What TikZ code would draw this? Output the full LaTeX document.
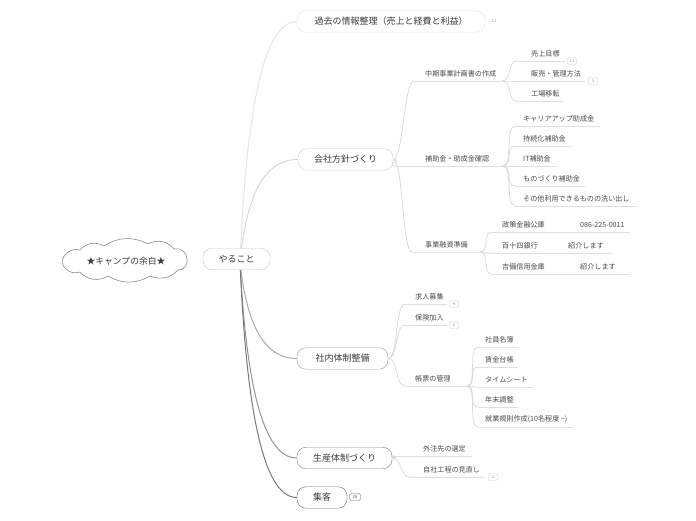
\documentclass[tikz,border=0pt]{standalone}
\usepackage{fontspec}
\setmainfont{Noto Sans CJK JP}
\usetikzlibrary{backgrounds}
\definecolor{maintxt}{HTML}{3A3A3A}
\definecolor{subtxtc}{HTML}{4A4A4A}
\definecolor{ulcol}{HTML}{E0E0E0}
\definecolor{conncol}{HTML}{D8D8D8}
\definecolor{badgecol}{HTML}{CFCFCF}
\definecolor{badgetxt}{HTML}{A0A0A0}
\tikzset{
 mainbox/.style={draw, rounded corners=9pt, fill=white, minimum height=21.5pt, inner sep=0pt, font=\fontsize{9}{9}\selectfont, text=maintxt},
 subtxt/.style={anchor=west, inner sep=0pt, font=\fontsize{7.1}{7}\selectfont, text=subtxtc},
 ul/.style={draw=ulcol, line width=0.6pt},
 conn/.style={draw=conncol, line width=0.7pt},
 rootline/.style={line width=1pt},
 badge/.style={draw=badgecol, rounded corners=2pt, inner sep=0.8pt, minimum width=9pt, minimum height=7pt, font=\fontsize{4.5}{4.5}\selectfont, text=badgetxt, fill=white},
 puff/.style={bend left=#1},
}
\newcommand\topic[6]{%
 \node[subtxt] (#1) at (#5,#4-7.5) {#6};
 \coordinate (#1L) at (#2,#4);
 \coordinate (#1R) at (#3,#4);
 \draw[ul] (#1L) -- (#1R);
}
\newcommand\cnx[2]{\draw[conn] (#1) .. controls +(10,0) and +(-10,0) .. (#2);}
\begin{document}
\begin{tikzpicture}[x=1pt,y=-1pt]
\useasboundingbox (0,0) rectangle (696,520);

% root cloud
\draw[black!45, line width=0.6pt, fill=white]
  (62,262) to[puff=50] (80,250) to[puff=40] (104,246) to[puff=30] (148,244)
  to[puff=40] (174,249) to[puff=55] (187,259) to[puff=55] (178,270)
  to[puff=35] (150,276) to[puff=30] (108,276) to[puff=40] (80,272) to[puff=50] cycle;
\node[inner sep=0pt, minimum width=128pt, minimum height=32pt, font=\fontsize{8.8}{9}\selectfont, text=maintxt] (root) at (126,261) {★キャンプの余白★};

% central
\node[mainbox, draw=black!22, minimum width=67pt] (yaru) at (236.5,259) {やること};
\coordinate (ys) at (240,262);

% main topics
\node[mainbox, draw=black!11, minimum width=188pt] (kako) at (391,21.5) {過去の情報整理（売上と経費と利益）};
\node[mainbox, draw=black!20, minimum width=95pt] (kaisha) at (345.5,159.5) {会社方針づくり};
\node[mainbox, draw=black!38, minimum width=91pt] (shanai) at (342.5,358.5) {社内体制整備};
\node[mainbox, draw=black!50, minimum width=95pt] (seisan) at (344.5,458) {生産体制づくり};
\node[mainbox, draw=black!60, minimum width=50pt] (shukyaku) at (322,497.5) {集客};

\node[inner sep=0pt, font=\fontsize{4.5}{4.5}\selectfont, text=badgetxt] (bkako) at (494,21) {11};
\node[badge, draw=black!60, text=black!60, minimum width=11pt] (bshu) at (355,497) {28};

\begin{scope}[on background layer]
\fill[white] (0,0) rectangle (696,520);
\draw[rootline, draw=black!10] (ys) .. controls (246,118) and (262,21.5) .. (kako.west);
\draw[rootline, draw=black!15] (ys) .. controls (246,200) and (262,159.5) .. (kaisha.west);
\draw[rootline, draw=black!33] (ys) .. controls (246,320) and (262,358.5) .. (shanai.west);
\draw[rootline, draw=black!42] (ys) .. controls (246,380) and (262,458) .. (seisan.west);
\draw[rootline, draw=black!52] (ys) .. controls (246,403) and (262,497.5) .. (shukyaku.west);
\end{scope}

% 会社方針づくり
\topic{chuki}{414}{502}{81}{425}{中期事業計画書の作成}
\topic{uriage}{517}{565}{61}{531}{売上目標}
\topic{hanbai}{515}{585}{81}{531}{販売・管理方法}
\topic{kojo}{517}{563}{101}{531}{工場移転}
\node[badge] (b1) at (572,61) {11};
\node[badge] (b2) at (593,81) {3};
\cnx{kaisha.east}{chukiL}
\cnx{chukiR}{uriageL}
\cnx{chukiR}{hanbaiL}
\cnx{chukiR}{kojoL}

\topic{hojo}{395}{503}{166}{425}{補助金・助成金確認}
\topic{career}{515}{600}{126}{523}{キャリアアップ助成金}
\topic{jizoku}{515}{572}{146}{523}{持続化補助金}
\topic{ithojo}{515}{557}{166}{523}{IT補助金}
\topic{monozukuri}{515}{585}{186}{523}{ものづくり補助金}
\topic{sonota}{515}{637}{206}{523}{その他利用できるものの洗い出し}
\cnx{kaisha.east}{hojoL}
\cnx{hojoR}{careerL}
\cnx{hojoR}{jizokuL}
\cnx{hojoR}{ithojoL}
\cnx{hojoR}{monozukuriL}
\cnx{hojoR}{sonotaL}

\topic{jigyo}{412}{480}{252}{425}{事業融資準備}
\topic{seisaku}{492}{630}{232}{502}{政策金融公庫}
\topic{hyaku}{492}{613}{253}{502}{百十四銀行}
\topic{kibi}{492}{630}{274}{502}{吉備信用金庫}
\node[subtxt] (seisakuN) at (580,224.5) {086-225-0011};
\node[subtxt] (hyakuN) at (568,245.5) {紹介します};
\node[subtxt] (kibiN) at (580,266.5) {紹介します};
\cnx{kaisha.east}{jigyoL}
\cnx{jigyoR}{seisakuL}
\cnx{jigyoR}{hyakuL}
\cnx{jigyoR}{kibiL}

% 社内体制整備
\topic{kyujin}{405}{447}{304}{415}{求人募集}
\topic{hoken}{405}{447}{325}{415}{保険加入}
\topic{chohyo}{405}{467}{386}{415}{帳票の管理}
\node[badge] (b3) at (454,304) {4};
\node[badge] (b4) at (454,325) {2};
\topic{meibo}{478}{518}{347}{485}{社員名簿}
\topic{chingin}{478}{518}{367}{485}{賃金台帳}
\topic{timesheet}{478}{533}{387}{485}{タイムシート}
\topic{nenmatsu}{478}{518}{407}{485}{年末調整}
\topic{kisoku}{478}{573}{427}{485}{就業規則作成(10名程度 \textasciitilde)}
\cnx{shanai.east}{kyujinL}
\cnx{shanai.east}{hokenL}
\cnx{shanai.east}{chohyoL}
\cnx{chohyoR}{meiboL}
\cnx{chohyoR}{chinginL}
\cnx{chohyoR}{timesheetL}
\cnx{chohyoR}{nenmatsuL}
\cnx{chohyoR}{kisokuL}

% 生産体制づくり
\topic{gaichu}{395}{472}{456}{423}{外注先の選定}
\topic{jisha}{410}{485}{477}{423}{自社工程の見直し}
\node[badge] (b5) at (493,477) {2};
\cnx{seisan.east}{gaichuL}
\cnx{seisan.east}{jishaL}
\end{tikzpicture}
\end{document}
